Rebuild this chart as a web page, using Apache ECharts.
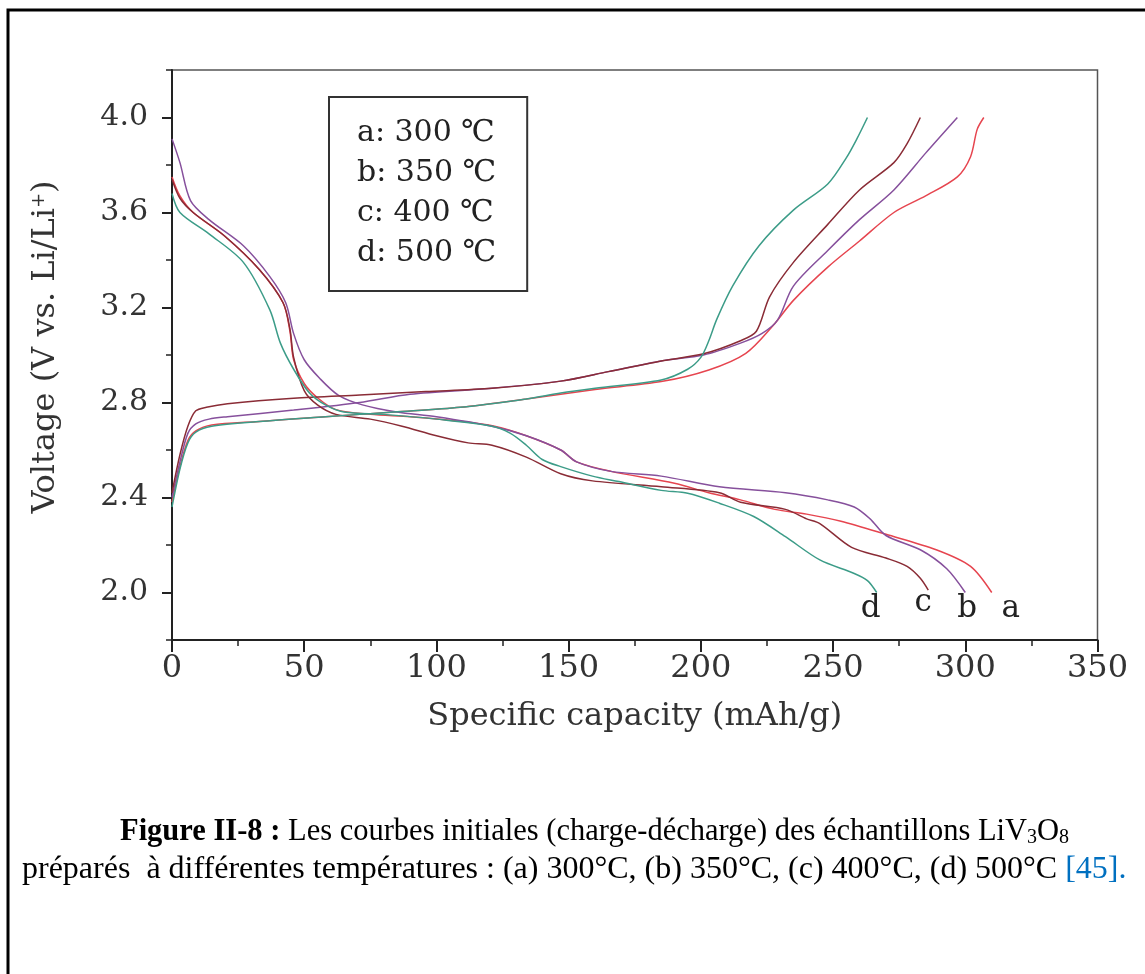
<!DOCTYPE html>
<html><head><meta charset="utf-8">
<script src="https://cdn.jsdelivr.net/npm/echarts@6/dist/echarts.min.js"></script>
<style>html,body{margin:0;padding:0;background:#fff}#c{width:1145px;height:974px}</style>
</head><body><div id="c"></div>
<script>
// ---- data ----
const sampleNames = ['a', 'b', 'c', 'd'];
const legendLabels = ['a: 300 ℃', 'b: 350 ℃', 'c: 400 ℃', 'd: 500 ℃'];
const xTickLabels = [0, 50, 100, 150, 200, 250, 300, 350];
const yTickLabels = [2.0, 2.4, 2.8, 3.2, 3.6, 4.0];

const dischargeA = [[0,3.75],[3,3.67],[8,3.60],[20,3.50],[33,3.36],[42,3.22],[44.6,3.10],[46,2.98],[50,2.88],[55,2.82],[62,2.77],[75,2.75],[90,2.74],[110,2.72],[122,2.70],[134,2.66],[147,2.60],[153,2.55],[166,2.51],[190,2.46],[203,2.42],[215,2.39],[228,2.35],[240,2.33],[253,2.30],[270,2.245],[289,2.18],[302,2.11],[310,2.00]];
const dischargeB = [[0,3.91],[3,3.81],[7,3.65],[14,3.57],[27,3.46],[37,3.33],[43,3.22],[46,3.09],[50,2.98],[56,2.90],[63,2.83],[72,2.79],[85,2.76],[100,2.74],[121,2.70],[134,2.66],[147,2.60],[153,2.55],[166,2.51],[185,2.49],[207,2.445],[232,2.42],[248,2.39],[258,2.36],[264,2.31],[270,2.24],[283,2.18],[293,2.10],[300,2.00]];
const dischargeC = [[0,3.74],[3,3.66],[8,3.60],[20,3.50],[33,3.36],[42,3.22],[44.6,3.11],[46,2.99],[50,2.85],[55,2.79],[62,2.75],[75,2.73],[87,2.70],[100,2.66],[112,2.63],[121,2.62],[134,2.57],[147,2.50],[159,2.47],[185,2.445],[207,2.42],[215,2.38],[232,2.35],[240,2.31],[245,2.29],[257,2.19],[270,2.145],[278,2.11],[283,2.06],[286,2.01]];
const dischargeD = [[0,3.68],[3,3.60],[14,3.51],[27,3.39],[37,3.19],[41,3.05],[46,2.94],[52,2.84],[58,2.79],[65,2.76],[80,2.75],[100,2.73],[121,2.70],[128,2.67],[134,2.62],[140,2.56],[147,2.53],[159,2.49],[169,2.467],[185,2.43],[195,2.418],[207,2.376],[220,2.32],[232,2.235],[245,2.137],[258,2.08],[263,2.05],[266.5,2.00]];

const chargeA = [[0,2.38],[3,2.53],[6,2.64],[9,2.68],[15,2.705],[33,2.72],[58,2.74],[84,2.76],[109,2.78],[134,2.815],[160,2.855],[185,2.888],[203,2.937],[217,3.007],[227,3.12],[235,3.23],[248,3.37],[260,3.48],[273,3.60],[285,3.67],[297,3.75],[302,3.835],[304.5,3.95],[307,4.00]];
const chargeB = [[0,2.40],[3,2.55],[6,2.67],[9,2.71],[14,2.73],[21,2.74],[46,2.768],[71,2.80],[90,2.835],[121,2.86],[147,2.89],[165,2.93],[185,2.975],[201,3.00],[215,3.05],[223,3.09],[229,3.147],[235,3.29],[248,3.44],[260,3.57],[273,3.695],[285,3.85],[297,4.00]];
const chargeC = [[0,2.42],[3,2.58],[6,2.70],[9,2.765],[13,2.78],[21,2.795],[46,2.818],[71,2.832],[96,2.846],[121,2.86],[147,2.89],[165,2.93],[185,2.975],[201,3.005],[215,3.06],[221,3.10],[226,3.245],[235,3.39],[248,3.55],[260,3.695],[273,3.81],[278,3.89],[283,4.00]];
const chargeD = [[0,2.36],[3,2.52],[6,2.63],[9,2.675],[15,2.70],[33,2.72],[58,2.74],[84,2.76],[109,2.78],[134,2.815],[147,2.84],[160,2.86],[185,2.895],[195,2.94],[200,2.99],[203,3.06],[206,3.15],[212,3.29],[222,3.46],[235,3.61],[248,3.72],[255,3.83],[259,3.91],[263,4.00]];

const dischargeData = [dischargeA, dischargeB, dischargeC, dischargeD];
const chargeData = [chargeA, chargeB, chargeC, chargeD];

// ---- styles ----
const colors = ['#e6454f', '#86509c', '#8a2c36', '#3c9c88'];
const endLabelOffsets = [[19, 16], [2, 16], [-5, 13], [-6, 16]];
const serif = 'DejaVu Serif';
const axisColor = '#222';

const series = [];
sampleNames.forEach((s, i) => {
  series.push({
    name: legendLabels[i], type: 'line', data: dischargeData[i],
    showSymbol: false, smooth: 0.3,
    lineStyle: { color: colors[i], width: 1.5 }, itemStyle: { color: colors[i] },
    endLabel: { show: true, formatter: s, distance: 0, align: 'center', verticalAlign: 'middle',
      offset: endLabelOffsets[i], fontFamily: serif, fontSize: 31, color: '#222' }
  });
  series.push({
    name: legendLabels[i], type: 'line', data: chargeData[i],
    showSymbol: false, smooth: 0.3,
    lineStyle: { color: colors[i], width: 1.5 }, itemStyle: { color: colors[i] }
  });
});

const chart = echarts.init(document.getElementById('c'), null, { renderer: 'canvas' });
chart.setOption({
  animation: false,
  backgroundColor: '#fff',
  grid: { left: 172, top: 70, width: 925.5, height: 570, show: true, borderColor: '#555', borderWidth: 1.5,
          containLabel: false, outerBoundsMode: 'none' },
  legend: {
    data: legendLabels, orient: 'vertical', left: 329, top: 97,
    padding: [21, 31, 23, 23], itemGap: 10, itemWidth: 0, itemHeight: 30, icon: 'none',
    selectedMode: false, backgroundColor: '#fff', borderColor: '#333', borderWidth: 2,
    textStyle: { fontFamily: serif, fontSize: 30, color: '#222' }
  },
  xAxis: [{
    type: 'value', min: 0, max: 350, interval: 50,
    axisLine: { show: true, lineStyle: { color: axisColor, width: 2 } },
    axisTick: { show: true, length: 12, lineStyle: { color: axisColor, width: 2 } },
    minorTick: { show: true, splitNumber: 2, length: 6, lineStyle: { color: axisColor, width: 1.5 } },
    axisLabel: { customValues: xTickLabels, fontFamily: serif, fontSize: 32, color: '#333', margin: 13 },
    splitLine: { show: false }, minorSplitLine: { show: false },
    name: 'Specific capacity (mAh/g)', nameLocation: 'middle', nameGap: 61,
    nameTextStyle: { fontFamily: serif, fontSize: 32, color: '#333' }
  }],
  yAxis: [{
    type: 'value', min: 1.8, max: 4.2, interval: 0.2, position: 'left',
    axisLine: { show: true, lineStyle: { color: axisColor, width: 2 } },
    axisTick: { show: true, length: 6, lineStyle: { color: axisColor, width: 1.5 } },
    axisLabel: { customValues: yTickLabels, formatter: v => v.toFixed(1), fontFamily: serif, fontSize: 30, color: '#333', margin: 24 },
    splitLine: { show: false },
    name: 'Voltage (V vs. Li/Li{sup|+})', nameLocation: 'middle', nameGap: 110,
    nameTextStyle: { fontFamily: serif, fontSize: 32, color: '#333', padding: [0, 0, 0, 16],
      rich: { sup: { fontFamily: serif, fontSize: 18, color: '#333', verticalAlign: 'top' } } }
  }, {
    type: 'value', min: 1.8, max: 4.2, interval: 0.2, position: 'left',
    axisLine: { show: false },
    axisTick: { show: true, customValues: yTickLabels, length: 10, lineStyle: { color: axisColor, width: 2 } },
    axisLabel: { show: false }, splitLine: { show: false }
  }],
  series: series,
  graphic: [
    { type: 'rect', silent: true, z: -1, shape: { x: 8, y: 10, width: 1400, height: 1200 },
      style: { fill: 'none', stroke: '#000', lineWidth: 3 } },
    { type: 'text', x: 120, y: 832, silent: true,
      style: { text: '{b|Figure II-8 :} Les courbes initiales (charge-décharge) des échantillons LiV{s|3}O{s|8}',
        fontFamily: 'Liberation Serif', fontSize: 30.5, fill: '#000', align: 'left', verticalAlign: 'middle',
        rich: { b: { fontFamily: 'Liberation Serif', fontSize: 30.5, fontWeight: 'bold', fill: '#000' },
                s: { fontFamily: 'Liberation Serif', fontSize: 20, fill: '#000', verticalAlign: 'bottom' } } } },
    { type: 'text', x: 22, y: 870, silent: true,
      style: { text: 'préparés  à différentes températures : (a) 300°C, (b) 350°C, (c) 400°C, (d) 500°C {l|[45].}',
        fontFamily: 'Liberation Serif', fontSize: 32, fill: '#000', align: 'left', verticalAlign: 'middle',
        rich: { l: { fontFamily: 'Liberation Serif', fontSize: 32, fill: '#0070c0' } } } }
  ]
});
</script></body></html>
